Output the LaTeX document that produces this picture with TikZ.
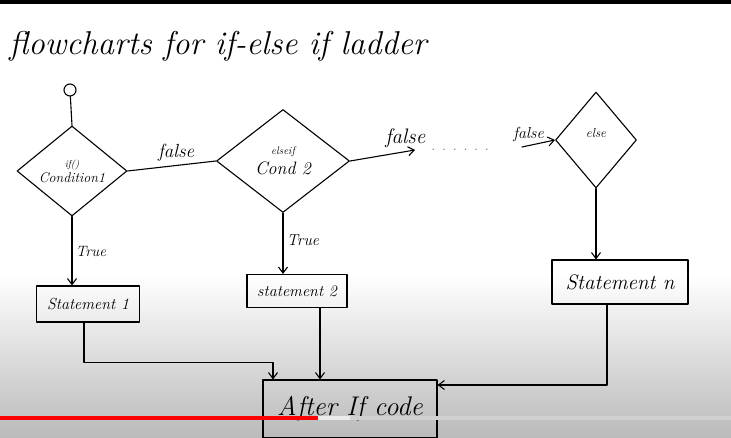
\documentclass[tikz,border=0pt]{standalone}
\usetikzlibrary{shapes.geometric,arrows.meta}
\tikzset{
  cond/.style={diamond, draw, line width=1.1pt, inner sep=0pt, align=center},
  stmt/.style={rectangle, draw, line width=1.1pt, inner sep=2pt},
  lbl/.style={font=\itshape\fontsize{#1}{#1}\selectfont},
}
\begin{document}
\begin{tikzpicture}[x=1pt, y=-1pt, line width=1.1pt, line join=round, line cap=round, >={Straight Barb[length=6pt,width=9pt]}]
 % screen background
 \fill[white] (0,0) rectangle (731,438);
 \shade[top color=white, bottom color=black!27] (0,275) rectangle (731,438);
 \fill[black] (0,0) rectangle (731,4);
 \useasboundingbox (0,0) rectangle (731,438);
 \node[lbl=33] (title) at (218,46) {flowcharts for if-else if ladder};
 \node[circle, draw, minimum size=12pt, inner sep=0pt] (start) at (70,90) {};
 \node[cond, minimum width=110pt, minimum height=90pt, lbl=14] (c1) at (72,171) {{\fontsize{10}{11}\selectfont if()}\\[1pt]Condition1};
 \node[cond, minimum width=133pt, minimum height=103pt, lbl=18] (c2) at (283,161) {{\fontsize{11}{12}\selectfont elseif}\\[2pt]Cond 2};
 \node[cond, minimum width=81pt, minimum height=96pt] (c3) at (596,140) {\raisebox{14pt}{\fontsize{13}{14}\selectfont\itshape else}};
 \node[stmt, minimum width=103pt, minimum height=36pt, lbl=16] (s1) at (88,304) {Statement 1};
 \node[stmt, minimum width=100pt, minimum height=33pt, lbl=16] (s2) at (297,291) {statement 2};
 \node[stmt, minimum width=136pt, minimum height=44pt, lbl=21] (sn) at (620,282) {Statement n};
 \node[stmt, minimum width=174pt, minimum height=58pt, lbl=27] (after) at (350,409) {After If code};
 \coordinate (f2) at (415,150);
 \coordinate (fn) at (522,147);
 \node[lbl=14, text=black!60] (dots) at (460,150) {. . . . . .};
 % flow
 \draw (start) -- (c1.north);
 \draw (c1.east) -- node[above, lbl=19, pos=0.55] {false} (c2.west);
 \draw[->] (c2.east) -- node[above, lbl=21, pos=0.85] {false} (f2);
 \draw[->] (fn) -- node[above, lbl=16, pos=0.2] {false} (c3.west);
 \draw[->] (c1.south) -- node[right, lbl=15] {True} (c1.south |- s1.north);
 \draw[->] (c2.south) -- node[right, lbl=16, pos=0.45] {True} (c2.south |- s2.north);
 \draw[->] (c3.south) -- (c3.south |- sn.north);
 \draw[->] ([xshift=-4pt]s1.south) |- ++(189,40) -- ([xshift=-77pt]after.north);
 \draw[->] ([xshift=23pt]s2.south) -- ([xshift=23pt]s2.south |- after.north);
 \draw[->] ([xshift=-13pt]sn.south) |- ([yshift=24pt]after.east);
 % player bar
 \fill[red] (0,416) rectangle (318,420);
 \fill[white!92!black] (318,416) rectangle (350,420);
 \fill[white!82!black] (350,416) rectangle (731,420);
\end{tikzpicture}
\end{document}
